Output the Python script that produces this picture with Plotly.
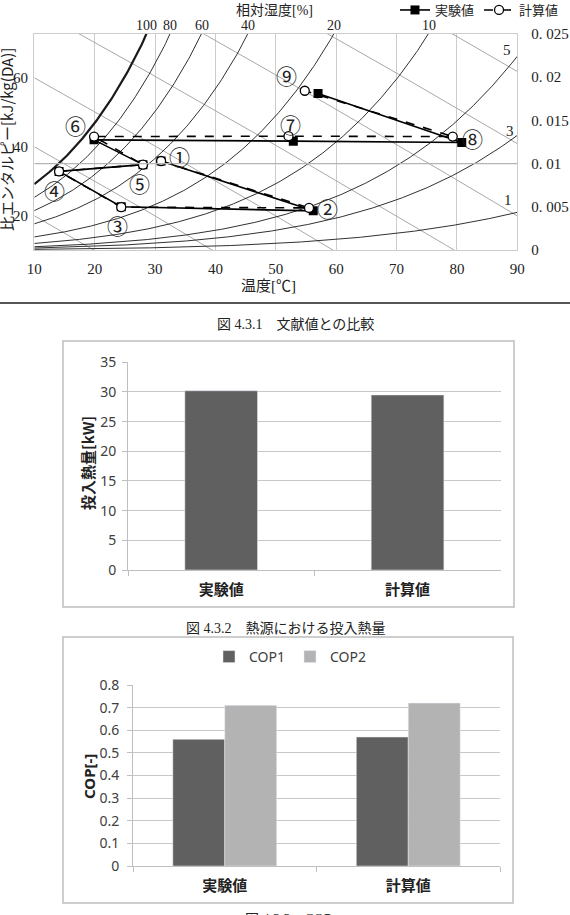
import numpy as np
import plotly.graph_objects as go

W, H = 570, 915
def PX(v): return v / W
def PY(v): return 1 - v / H

# ---------------- data: psychrometric chart ----------------
STATE_LABELS = ["①", "②", "③", "④", "⑤", "⑥", "⑦", "⑧", "⑨"]
EXP_T = [31.0, 56.2, 24.4, 14.1, 28.0, 19.9, 52.9, 80.8, 57.0]
EXP_X = [0.0103, 0.00453, 0.0050, 0.0091, 0.00988, 0.01275, 0.0126, 0.01245, 0.01812]
CAL_T = [31.0, 55.5, 24.4, 14.1, 28.0, 19.9, 52.1, 79.3, 54.8]
CAL_X = [0.0103, 0.00487, 0.00496, 0.0091, 0.00988, 0.01313, 0.01317, 0.01313, 0.01843]
LABEL_T = [34.1, 58.6, 23.7, 13.4, 27.5, 16.9, 52.5, 82.6, 51.8]
LABEL_X = [0.01086, 0.00484, 0.00288, 0.00691, 0.00775, 0.01452, 0.01463, 0.01302, 0.02028]

RH_LEVELS = [100, 80, 60, 40, 20, 10, 5, 3, 1]
RH_TOP_LABELS = [100, 80, 60, 40, 20, 10]
RH_SIDE_LABELS = ["5", "3", "1"]
H_LEVELS = [20, 40, 60, 80, 100, 120, 140]
H_LEFT_LABELS = [20, 40, 60]
T_TICKS = [10, 20, 30, 40, 50, 60, 70, 80, 90]
X_TICKS = [0, 0.005, 0.01, 0.015, 0.02, 0.025]
X_TICKTEXT = ["0", "0. 005", "0. 01", "0. 015", "0. 02", "0. 025"]

# ---------------- data: bar charts ----------------
CATS = ["実験値", "計算値"]
HEAT_KW = [30.2, 29.5]
COP1 = [0.56, 0.57]
COP2 = [0.71, 0.72]

SERIF = "Liberation Serif, Noto Sans CJK JP"
SANS = "Noto Sans, Noto Sans CJK JP"
CJK = "Noto Sans CJK JP"

P_ATM = 101.325
def psat(T):
    return 0.61078 * np.exp(17.27 * T / (T + 237.3))

def x_rh(phi, T):
    pw = phi / 100.0 * psat(T)
    return 0.622 * pw / (P_ATM - pw)

def x_h(h, T):
    return (h - 1.006 * T) / (2520 - 1.4 * T)

def t_at_top(phi, top=0.025):
    lo, hi = 10.0, 90.0
    for _ in range(60):
        mid = (lo + hi) / 2
        if x_rh(phi, mid) > top:
            hi = mid
        else:
            lo = mid
    return (lo + hi) / 2

fig = go.Figure()

Tg = np.linspace(10, 90, 321)
for h in H_LEVELS:
    fig.add_trace(go.Scatter(x=Tg, y=x_h(h, Tg), mode="lines",
                             line=dict(color="#a8a8a8", width=1), showlegend=False,
                             hoverinfo="skip", xaxis="x", yaxis="y"))
for phi in RH_LEVELS:
    fig.add_trace(go.Scatter(x=Tg, y=x_rh(phi, Tg), mode="lines",
                             line=dict(color="#1a1a1a", width=2.2 if phi == 100 else 0.9),
                             showlegend=False, hoverinfo="skip", xaxis="x", yaxis="y"))

fig.add_trace(go.Scatter(x=EXP_T, y=EXP_X, mode="lines+markers", name="実験値",
                         line=dict(color="black", width=1.6),
                         marker=dict(symbol="square", size=9, color="black"),
                         xaxis="x", yaxis="y", legend="legend"))
fig.add_trace(go.Scatter(x=CAL_T, y=CAL_X, mode="lines+markers", name="計算値",
                         line=dict(color="black", width=1.6, dash="dash"),
                         marker=dict(symbol="circle", size=9, color="white",
                                     line=dict(color="black", width=1.3)),
                         xaxis="x", yaxis="y", legend="legend"))

# ---------------- bar charts ----------------
fig.add_trace(go.Bar(x=CATS, y=HEAT_KW, width=0.39, marker_color="#606060",
                     showlegend=False, xaxis="x2", yaxis="y2"))
fig.add_trace(go.Bar(x=CATS, y=COP1, name="COP1", width=0.283, offset=-0.283,
                     marker_color="#606060", xaxis="x3", yaxis="y3", legend="legend2"))
fig.add_trace(go.Bar(x=CATS, y=COP2, name="COP2", width=0.283, offset=0.0,
                     marker_color="#b3b3b3", xaxis="x3", yaxis="y3", legend="legend2"))

ann = []
def A(text, x, y, size=14, family=SERIF, color="#222", xanchor="center",
      yanchor="middle", angle=0, xref="paper", yref="paper", weight="normal"):
    ann.append(dict(text=text, x=x, y=y, xref=xref, yref=yref, showarrow=False,
                    xanchor=xanchor, yanchor=yanchor, textangle=angle,
                    font=dict(size=size, family=family, color=color, weight=weight)))

# psychro texts
A("相対湿度[%]", PX(274), PY(10), size=14)
for phi in RH_TOP_LABELS:
    A(str(phi), t_at_top(phi), PY(25.5), size=14, xref="x")
for txt, (px, py) in zip(RH_SIDE_LABELS, [(507, 50), (510, 131), (508, 200)]):
    A(txt, PX(px), PY(py), size=15)
for h in H_LEFT_LABELS:
    A(str(h), PX(30), x_h(h, 10.0), size=15, xanchor="right", yref="y")
A("比エンタルピー[kJ/kg(DA)]", PX(7), PY(140), size=15, angle=-90, family=CJK)
A("温度[℃]", PX(268), PY(286), size=15)
for lab, t, xv in zip(STATE_LABELS, LABEL_T, LABEL_X):
    A(lab, t, xv, size=21, family=CJK, xref="x", yref="y", color="#222")

# captions
A("図 4.3.1　文献値との比較", PX(295), PY(325), size=14)
A("図 4.3.2　熱源における投入熱量", PX(286), PY(628), size=14)
A("図 4.3.3　COP", PX(288), PY(919), size=14)

# bar chart axis titles
A("投入熱量[kW]", PX(88), PY(463), size=15, family=CJK, angle=-90, weight="bold")
A("COP[-]", PX(89), PY(777), size=15, family=SANS, angle=-90, weight="bold")

shapes = [
    dict(type="line", xref="x", yref="y", x0=10, x1=90, y0=0.01, y1=0.01,
         line=dict(color="#b5b5b5", width=1.2)),
    dict(type="line", xref="paper", yref="paper", x0=0, x1=1, y0=PY(303), y1=PY(303),
         line=dict(color="#555", width=2)),
    dict(type="rect", xref="paper", yref="paper", x0=PX(63), x1=PX(514), y0=PY(341), y1=PY(607),
         line=dict(color="#bfbfbf", width=1.5)),
    dict(type="rect", xref="paper", yref="paper", x0=PX(63), x1=PX(513), y0=PY(637), y1=PY(903),
         line=dict(color="#bfbfbf", width=1.5)),
]

tickf_serif = dict(size=15, family=SERIF, color="#222")
tickf_sans = dict(size=14, family=SANS, color="#404040")
catf = dict(size=15, family=CJK, color="#222", weight="bold")

fig.update_layout(
    width=W, height=H, margin=dict(l=0, r=0, t=0, b=0, autoexpand=False),
    paper_bgcolor="white", plot_bgcolor="white",
    barmode="group",
    annotations=ann, shapes=shapes,
    xaxis=dict(domain=[PX(34.3), PX(517.3)], range=[10, 90], tickvals=T_TICKS,
               showgrid=True, gridcolor="#cccccc", gridwidth=1.2, zeroline=False,
               showline=True, mirror=True, linecolor="#cccccc", ticks="",
               tickfont=tickf_serif, ticklabelstandoff=5, anchor="y", automargin=False),
    yaxis=dict(domain=[PY(250), PY(34)], range=[0, 0.025], side="right",
               tickvals=X_TICKS, ticktext=X_TICKTEXT, showgrid=False, zeroline=False,
               showline=True, mirror=True, linecolor="#cccccc", ticks="",
               tickfont=tickf_serif, ticklabelstandoff=10, anchor="x", automargin=False),
    xaxis2=dict(domain=[PX(128), PX(500.7)], anchor="y2", showgrid=False,
                showline=True, linecolor="#bfbfbf", ticks="outside", tickson="boundaries",
                ticklen=5, tickcolor="#bfbfbf", tickfont=catf, ticklabelstandoff=6,
                automargin=False),
    yaxis2=dict(domain=[PY(570), PY(362.3)], anchor="x2", range=[0, 35], dtick=5,
                showgrid=True, gridcolor="#c8c8c8", zeroline=False, showline=True,
                linecolor="#bfbfbf", ticks="outside", ticklen=5, tickcolor="#bfbfbf",
                tickfont=tickf_sans, ticklabelstandoff=3, automargin=False),
    xaxis3=dict(domain=[PX(133), PX(500)], anchor="y3", showgrid=False,
                showline=True, linecolor="#bfbfbf", ticks="outside", tickson="boundaries",
                ticklen=5, tickcolor="#bfbfbf", tickfont=catf, ticklabelstandoff=6,
                automargin=False),
    yaxis3=dict(domain=[PY(866), PY(685)], anchor="x3", range=[0, 0.8], dtick=0.1,
                tickformat=".1~f",
                showgrid=True, gridcolor="#c8c8c8", zeroline=False, showline=True,
                linecolor="#bfbfbf", ticks="outside", ticklen=5, tickcolor="#bfbfbf",
                tickfont=tickf_sans, ticklabelstandoff=5, automargin=False),
    legend=dict(orientation="h", x=PX(564), xanchor="right", y=PY(-5), yanchor="top",
                font=dict(size=13, family=CJK, color="#222"), bgcolor="rgba(0,0,0,0)",
                itemwidth=30),
    legend2=dict(orientation="h", x=PX(290), xanchor="center", y=PY(657), yanchor="middle",
                 font=dict(size=14, family=SANS, color="#404040"), bgcolor="rgba(0,0,0,0)"),
)

fig.write_html("out.html")
